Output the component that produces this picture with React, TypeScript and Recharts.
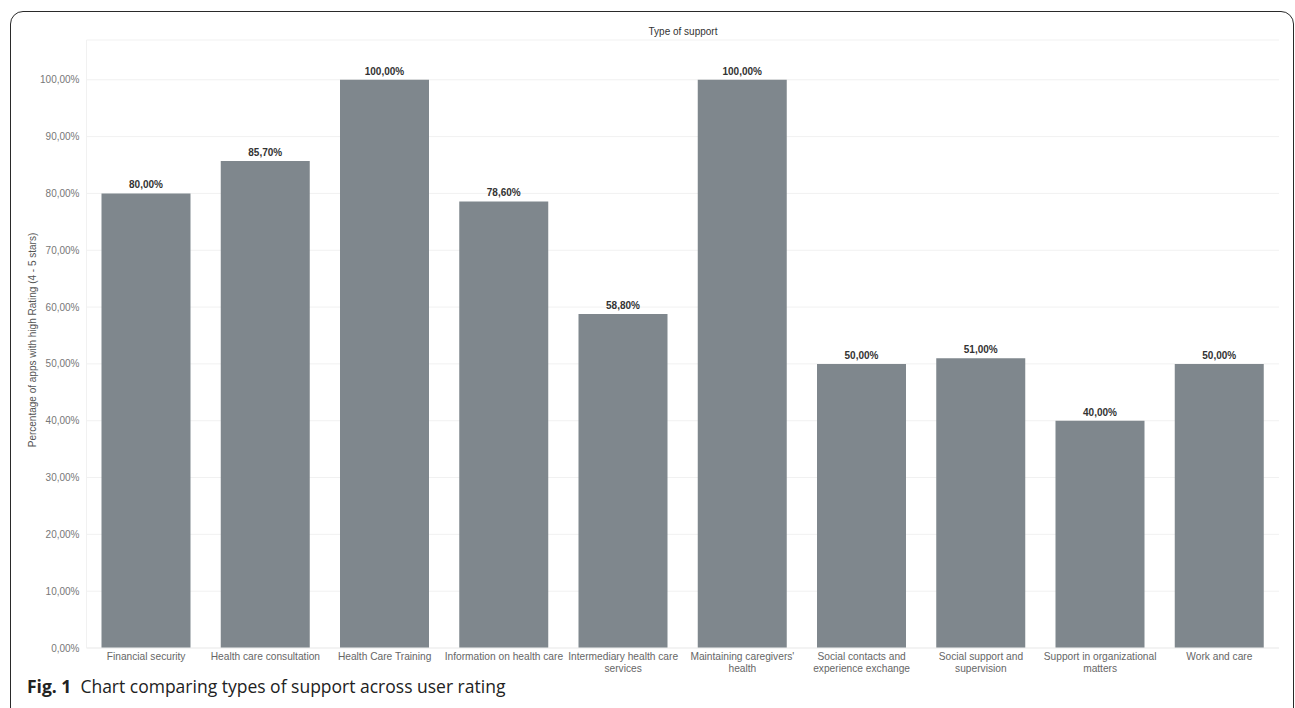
import React from "react";
import { BarChart, Bar, XAxis, YAxis, CartesianGrid, LabelList } from "recharts";

const categories = [
  "Financial security",
  "Health care consultation",
  "Health Care Training",
  "Information on health care",
  "Intermediary health care services",
  "Maintaining caregivers' health",
  "Social contacts and experience exchange",
  "Social support and supervision",
  "Support in organizational matters",
  "Work and care",
];

const highRatingShare = [80.0, 85.7, 100.0, 78.6, 58.8, 100.0, 50.0, 51.0, 40.0, 50.0];

const tickLines: string[][] = [
  ["Financial security"],
  ["Health care consultation"],
  ["Health Care Training"],
  ["Information on health care"],
  ["Intermediary health care", "services"],
  ["Maintaining caregivers'", "health"],
  ["Social contacts and", "experience exchange"],
  ["Social support and", "supervision"],
  ["Support in organizational", "matters"],
  ["Work and care"],
];

const yTicks = [0, 10, 20, 30, 40, 50, 60, 70, 80, 90, 100];

const data = categories.map((name, i) => ({ name, value: highRatingShare[i] }));

const FONT = "'Liberation Sans', Arial, sans-serif";
const BAR_COLOR = "#7f878d";

const fmtPct = (v: number) => v.toFixed(2).replace(".", ",") + "%";

const XTick = (props: any) => {
  const { x, y, payload, index } = props;
  const idx = typeof index === "number" ? index : categories.indexOf(payload.value);
  const lines = tickLines[idx] || [String(payload.value)];
  return (
    <text x={x} y={y} textAnchor="middle" fontFamily={FONT} fontSize={10.2} fill="#666">
      {lines.map((l, i) => (
        <tspan key={i} x={x} dy={i === 0 ? 12 : 12}>
          {l}
        </tspan>
      ))}
    </text>
  );
};

export default function App() {
  return (
    <div
      style={{
        position: "absolute",
        left: 0,
        top: 0,
        width: 1295,
        height: 708,
        overflow: "hidden",
        background: "#fff",
      }}
    >
      <div
        style={{
          position: "absolute",
          left: 10,
          top: 11,
          width: 1284,
          height: 740,
          border: "1.3px solid #2a2a2a",
          borderRadius: 13,
          boxSizing: "border-box",
        }}
      />
      <div style={{ position: "absolute", left: 0, top: 0 }}>
        <BarChart
          width={1295}
          height={708}
          data={data}
          margin={{ top: 40, right: 16, bottom: 0, left: 6.5 }}
        >
          <text
            x={683}
            y={35}
            textAnchor="middle"
            fontFamily={FONT}
            fontSize={10}
            fill="#333"
          >
            Type of support
          </text>
          <CartesianGrid vertical={false} stroke="#f1f1f1" strokeWidth={1} />
          <XAxis
            dataKey="name"
            height={60}
            interval={0}
            tickLine={false}
            tickSize={0}
            tickMargin={0}
            axisLine={{ stroke: "#eeeeee" }}
            tick={<XTick />}
          />
          <YAxis
            width={80}
            domain={[0, 107]}
            ticks={yTicks}
            allowDataOverflow
            tickLine={false}
            tickSize={0}
            tickMargin={7}
            axisLine={{ stroke: "#f1f1f1" }}
            tickFormatter={fmtPct}
            tick={{ fontFamily: FONT, fontSize: 10, fill: "#777" }}
            label={{
              value: "Percentage of apps with high Rating (4 - 5 stars)",
              angle: -90,
              position: "insideLeft",
              offset: 0,
              dx: 26,
              dy: -4,
              style: { fontFamily: FONT, fontSize: 10, fill: "#555", textAnchor: "middle" },
            }}
          />
          <Bar dataKey="value" fill={BAR_COLOR} barSize={89} isAnimationActive={false}>
            <LabelList
              dataKey="value"
              position="top"
              offset={5}
              formatter={(v: any) => fmtPct(Number(v))}
              style={{ fontFamily: FONT, fontSize: 10, fontWeight: 700, fill: "#333" }}
            />
          </Bar>
        </BarChart>
      </div>
      <div
        style={{
          position: "absolute",
          left: 27,
          top: 674,
          fontFamily: "'Open Sans', 'Noto Sans', sans-serif",
          fontSize: 17.5,
          color: "#222",
          whiteSpace: "nowrap",
        }}
      >
        <span style={{ fontWeight: 700 }}>Fig. 1</span>
        <span style={{ marginLeft: 9 }}>Chart comparing types of support across user rating</span>
      </div>
    </div>
  );
}
